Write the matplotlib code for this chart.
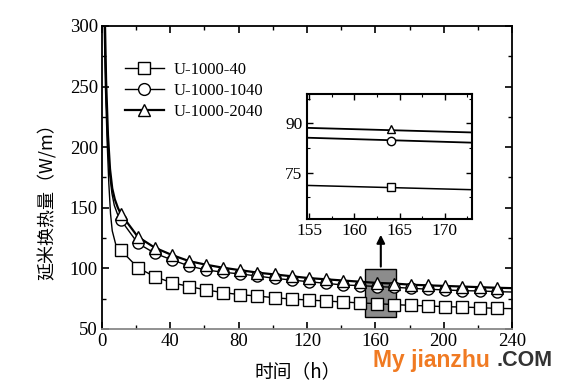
import matplotlib
matplotlib.use("Agg")
import matplotlib.pyplot as plt
import numpy as np

# ---- data ----
marker_t = [11, 21, 31, 41, 51, 61, 71, 81, 91, 101, 111, 121, 131, 141, 151,
            161, 171, 181, 191, 201, 211, 221, 231]
u40 = [115, 100.6, 93, 88.2, 85, 82.2, 80, 78.3, 77.2, 75.8, 74.7, 73.9, 73.1,
       72.3, 71.5, 70.9, 70.1, 69.5, 69.0, 68.4, 68.1, 67.6, 67.0]
u1040 = [140, 120.7, 112.4, 107, 102, 98.7, 96.8, 95.4, 93.7, 91.8, 90.4, 89,
         87.7, 86.3, 85.8, 85.0, 84.4, 83.6, 82.8, 82.2, 81.6, 81.4, 80.8]
u2040 = [145, 126, 117, 111, 106, 103, 100.5, 98.5, 96.5, 95, 93.5, 92, 91, 90,
         89, 88, 87.5, 86.5, 86, 85.5, 85, 84.5, 84]

# early (steep) part of the curves
early_t40 = [1.2, 2.0, 3.0, 4.0, 5.0, 6.0, 8.0]
early_u40 = [310, 250, 205, 170, 145, 131, 120]
early_t1040 = [1.4, 2.3, 3.3, 4.5, 5.8, 7.2, 9.0]
early_u1040 = [315, 250, 205, 178, 162, 152, 145]
early_t2040 = [1.5, 2.4, 3.5, 4.7, 6.0, 7.5, 9.3]
early_u2040 = [320, 255, 210, 182, 166, 157, 150]
end_t = 240
end_u40, end_u1040, end_u2040 = 66.8, 80.5, 83.7

# inset
inset_t = [154.7, 173.0]
inset_u40 = [71.1, 69.8]
inset_u1040 = [85.6, 84.1]
inset_u2040 = [88.6, 87.2]
inset_mt = [164]
inset_m40 = [70.6]
inset_m1040 = [84.7]
inset_m2040 = [88.3]

labels = ["U-1000-40", "U-1000-1040", "U-1000-2040"]

serif = ["Liberation Serif", "DejaVu Serif"]
cjk = ["Noto Sans CJK SC", "DejaVu Sans"]

fig = plt.figure(figsize=(5.66, 3.85), dpi=100)
ax = fig.add_axes([0.1802, 0.1455, 0.7244, 0.787])

lw = [1.0, 1.0, 1.6]
series = [
    (early_t40, early_u40, u40, end_u40, 's', lw[0]),
    (early_t1040, early_u1040, u1040, end_u1040, 'o', lw[1]),
    (early_t2040, early_u2040, u2040, end_u2040, '^', lw[2]),
]
for (et, eu, mu, endu, mk, w), lab in zip(series, labels):
    tt = list(et) + marker_t + [end_t]
    uu = list(eu) + mu + [endu]
    ax.plot(tt, uu, color='black', lw=w, zorder=2)
    ax.plot(marker_t, mu, linestyle='none', marker=mk, ms=8,
            mfc='white', mec='black', mew=1.0, zorder=3)
    ax.plot([], [], color='black', lw=w, marker=mk, ms=8.5, mfc='white',
            mec='black', mew=1.0, label=lab)

# grey zoom box
ax.add_patch(plt.Rectangle((154, 60.2), 18, 39, facecolor='#8c8c8c',
                           edgecolor='black', lw=1.0, zorder=1))
ax.annotate('', xy=(163.2, 130), xytext=(163.2, 99.2),
            arrowprops=dict(arrowstyle='-|>', color='black', lw=1.5,
                            mutation_scale=12), zorder=4)

ax.set_xlim(0, 240)
ax.set_ylim(50, 300)
ax.set_xticks(np.arange(0, 241, 40))
ax.set_xticks(np.arange(0, 241, 20), minor=True)
ax.set_yticks(np.arange(50, 301, 50))
ax.set_yticks(np.arange(50, 301, 25), minor=True)
ax.tick_params(which='both', direction='in', top=True, right=True,
               labelsize=13.5, pad=3)
ax.tick_params(which='major', length=5, width=1.2)
ax.tick_params(which='minor', length=3, width=1.0)
for lab in ax.get_xticklabels() + ax.get_yticklabels():
    lab.set_family(serif)
for s in ax.spines.values():
    s.set_linewidth(1.3)
ax.spines['bottom'].set_color('#888888')

ax.set_xlabel('时间（h）', family=cjk, fontsize=13.5)
ax.set_ylabel('延米换热量（W/m）', family=cjk, fontsize=13)
ax.xaxis.set_label_coords(0.476, -0.106)
ax.yaxis.set_label_coords(-0.11, 0.436)

leg = ax.legend(loc='upper left', bbox_to_anchor=(0.02, 0.93), frameon=False,
                prop={'family': serif, 'size': 12}, handlelength=2.3,
                handletextpad=0.6, labelspacing=0.3)

# inset
ins = fig.add_axes([0.5419, 0.4304, 0.2915, 0.3247])
ins.plot(inset_t, inset_u2040, color='black', lw=1.3)
ins.plot(inset_t, inset_u1040, color='black', lw=1.3)
ins.plot(inset_t, inset_u40, color='black', lw=1.1)
for mu, mk in [(inset_m40, 's'), (inset_m1040, 'o'), (inset_m2040, '^')]:
    ins.plot(inset_mt, mu, linestyle='none', marker=mk, ms=6, mfc='white',
             mec='black', mew=1.0)
ins.set_xlim(154.7, 173.0)
ins.set_ylim(60.8, 98.8)
ins.set_xticks([155, 160, 165, 170])
ins.set_xticks(np.arange(155, 173, 2.5), minor=True)
ins.set_yticks([75, 90])
ins.set_yticks(np.arange(67.5, 98, 7.5), minor=True)
ins.tick_params(which='both', direction='in', top=True, right=True,
                labelsize=12.5, pad=3)
ins.tick_params(which='major', length=4, width=1.0)
ins.tick_params(which='minor', length=2.5, width=0.8)
for lab in ins.get_xticklabels() + ins.get_yticklabels():
    lab.set_family(serif)
for s in ins.spines.values():
    s.set_linewidth(1.5)

# watermark
fig.text(373 / 566, 1 - 360 / 385, 'My jianzhu', color='#f07a22',
         fontsize=16.5, fontweight='bold', family='Liberation Sans', va='center')
fig.text(497 / 566, 1 - 360 / 385, '.COM', color='#333333',
         fontsize=15.5, fontweight='bold', family='Liberation Sans', va='center')

fig.savefig('out.png', dpi=100)
